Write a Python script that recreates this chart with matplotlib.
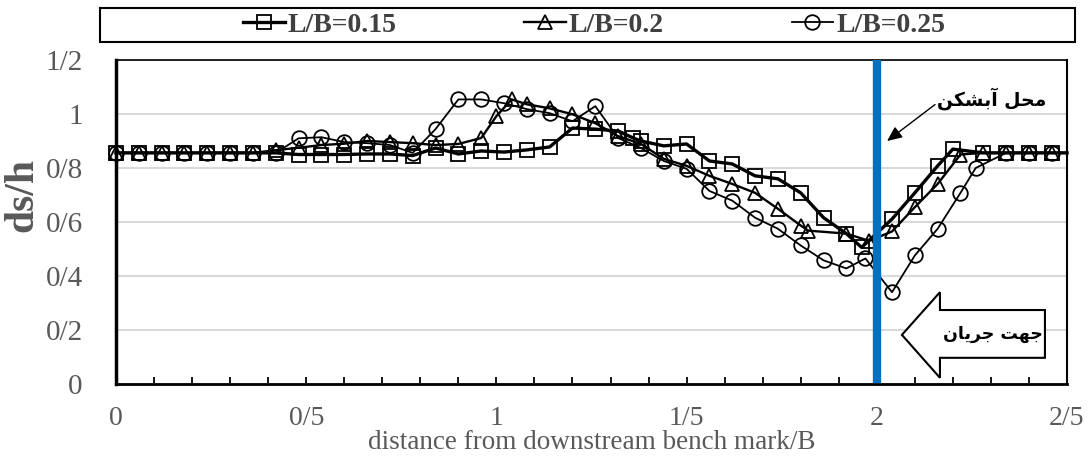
import matplotlib
matplotlib.use("Agg")
import matplotlib.pyplot as plt
import matplotlib.patches as mpatches
from matplotlib.ticker import FuncFormatter, MultipleLocator

# data
labels = ["L/B=0.15", "L/B=0.2", "L/B=0.25"]

sq_x = [0, .06, .12, .18, .24, .30, .36, .42, .48, .54, .60, .66, .72, .78, .84, .90, .96,
        1.02, 1.08, 1.14, 1.20, 1.26, 1.32, 1.36, 1.38, 1.44, 1.50, 1.56, 1.62, 1.68, 1.74,
        1.80, 1.86, 1.92, 1.96, 2.04, 2.10, 2.16, 2.20, 2.28, 2.34, 2.40, 2.46, 2.50]
sq_y = [.856, .856, .856, .856, .856, .856, .856, .856, .85, .85, .85, .852, .852, .846,
        .874, .852, .863, .859, .867, .878, .948, .944, .937, .911, .90, .882, .889, .826,
        .815, .771, .76, .708, .616, .557, .506, .611, .708, .808, .87, .856, .856, .856,
        .856, .856]

tr_x = [0, .06, .12, .18, .24, .30, .36, .42, .48, .54, .60, .66, .72, .78, .84, .90, .96,
        1.00, 1.04, 1.08, 1.14, 1.20, 1.26, 1.32, 1.38, 1.44, 1.50, 1.56, 1.62, 1.68, 1.74,
        1.80, 1.82, 1.92, 1.98, 2.04, 2.10, 2.16, 2.22, 2.28, 2.34, 2.40, 2.46, 2.50]
tr_y = [.856, .856, .856, .856, .856, .856, .856, .866, .875, .885, .89, .90, .896, .892,
        .885, .889, .911, .992, 1.054, 1.036, 1.021, .999, .966, .918, .889, .834, .808,
        .771, .741, .708, .649, .587, .568, .557, .53, .565, .655, .741, .85, .856, .856,
        .856, .856, .856]

ci_x = [0, .06, .12, .18, .24, .30, .36, .42, .48, .54, .60, .66, .72, .78, .84, .90, .96,
        1.02, 1.08, 1.14, 1.20, 1.26, 1.32, 1.38, 1.44, 1.50, 1.56, 1.62, 1.68, 1.74, 1.80,
        1.86, 1.92, 1.97, 2.04, 2.10, 2.16, 2.22, 2.26, 2.34, 2.40, 2.46, 2.50]
ci_y = [.856, .856, .856, .856, .856, .856, .856, .856, .91, .914, .896, .892, .885, .856,
        .944, 1.054, 1.054, 1.04, 1.018, 1.003, .973, 1.029, .911, .874, .826, .797, .715,
        .679, .616, .575, .513, .458, .428, .465, .34, .476, .575, .708, .80, .856, .856,
        .856, .856]

weir_x = 2.0

# persian labels in visual order with presentation forms (no shaping in matplotlib)
weir_label = "\uFEE6\uFB91\uFEB8\uFE91\uFE81 \uFEDE\uFEA4\uFEE3"      # محل آبشکن
flow_label = "\uFEE5\uFE8E\uFBFE\uFEAE\uFE9F \uFE96\uFEEC\uFE9F"      # جهت جریان

gray = "#595959"
serif = "Liberation Serif"

fig = plt.figure(figsize=(10.88, 4.57), dpi=100)
ax = fig.add_axes([116 / 1088, 1 - 384 / 457, 951 / 1088, 324 / 457])

series = [(sq_x, sq_y, "s", 2.4, 9.5), (tr_x, tr_y, "^", 1.7, 10), (ci_x, ci_y, "o", 1.3, 10.5)]
handles = []
for (x, y, m, lw, ms), lab in zip(series, labels):
    h, = ax.plot(x, y, color="black", lw=lw, marker=m, ms=ms, mfc="none", mec="black",
                 mew=1.3, markevery=list(range(len(x) - 1)), clip_on=False, zorder=3,
                 label=lab)
    handles.append(h)

ax.axvline(weir_x, ymin=0.015, ymax=1, color="#0070C0", lw=6, zorder=5)

ax.set_xlim(0, 2.5)
ax.set_ylim(0, 1.2)
ax.xaxis.set_major_locator(MultipleLocator(0.5))
ax.xaxis.set_minor_locator(MultipleLocator(0.1))
ax.yaxis.set_major_locator(MultipleLocator(0.2))

fmt = FuncFormatter(lambda v, p: ("%g" % round(v, 2)).replace(".", "/"))
ax.xaxis.set_major_formatter(fmt)
ax.yaxis.set_major_formatter(fmt)

ax.grid(axis="y", color="#d9d9d9", lw=1.5, zorder=0)
ax.set_axisbelow(True)

ax.tick_params(axis="x", which="both", direction="in", length=5, width=1.3, color="black",
               pad=16, labelsize=20, labelcolor=gray)
ax.tick_params(axis="y", length=0, pad=24, labelsize=21, labelcolor=gray)
for t in ax.get_xticklabels() + ax.get_yticklabels():
    t.set_fontfamily(serif)

ax.spines["left"].set_linewidth(2.5)
ax.spines["bottom"].set_linewidth(2)
ax.spines["right"].set_linewidth(1.5)
ax.spines["top"].set_linewidth(1.2)

ax.set_xlabel("distance from downstream bench mark/B", fontfamily=serif, fontsize=19.5,
              color=gray, va="center")
ax.xaxis.set_label_coords(0.5, -0.18)
ax.set_ylabel("ds/h", fontfamily=serif, fontsize=30, fontweight="bold", color=gray)
ax.yaxis.set_label_coords(-0.078, 0.583)

# weir annotation
ax.text(2.303, 1.058, weir_label, ha="center", va="center", fontsize=13.5,
        fontweight="bold", fontfamily="DejaVu Sans")
ax.annotate("", xy=(2.027, 0.90), xytext=(2.153, 1.035),
            arrowprops=dict(arrowstyle="-|>,head_length=0.9,head_width=0.4", color="black",
                            lw=1, shrinkA=0, shrinkB=0))

# flow direction block arrow
arrow_pts = [(2.066, 0.182), (2.166, 0.34), (2.166, 0.274), (2.442, 0.274), (2.442, 0.097),
             (2.166, 0.097), (2.166, 0.023)]
ax.add_patch(mpatches.Polygon(arrow_pts, closed=True, facecolor="white", edgecolor="black",
                              lw=1.5, zorder=6))
ax.text(2.305, 0.185, flow_label, ha="center", va="center", fontsize=12.5, fontweight="bold",
        fontfamily="DejaVu Sans", zorder=7)

# legend box across the top
fig.patches.append(mpatches.Rectangle((100 / 1088, 1 - 42 / 457), 975 / 1088, 34 / 457,
                                      transform=fig.transFigure, fill=False,
                                      edgecolor="black", lw=1.5))
leg = fig.legend(handles=handles, loc="center", bbox_to_anchor=(594 / 1088, 1 - 25 / 457),
                 ncol=3, frameon=False, handlelength=1.5, handletextpad=0.1,
                 columnspacing=4.6, prop=dict(family=serif, weight="bold", size=20))
for t in leg.get_texts():
    t.set_color("#404040")

fig.savefig("out.png", dpi=100)
